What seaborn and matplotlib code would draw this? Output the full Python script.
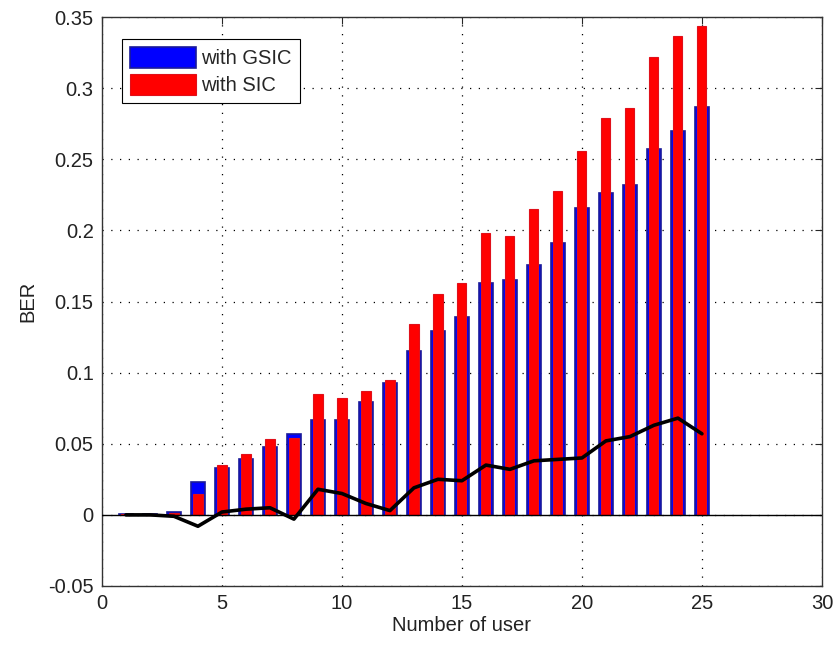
import numpy as np
import pandas as pd
import seaborn as sns
import matplotlib.pyplot as plt

# ── Data ──────────────────────────────────────────────────────────────────────
users = list(range(1, 26))
ber_gsic = [0.0005, 0.0003, 0.002, 0.023, 0.033, 0.039, 0.048, 0.057, 0.067, 0.067,
            0.079, 0.093, 0.115, 0.129, 0.139, 0.163, 0.165, 0.176, 0.191, 0.216,
            0.226, 0.232, 0.257, 0.270, 0.287]
ber_sic = [0.0005, 0.0003, 0.001, 0.015, 0.035, 0.043, 0.053, 0.054, 0.085, 0.082,
           0.087, 0.095, 0.134, 0.155, 0.163, 0.198, 0.196, 0.215, 0.228, 0.256,
           0.279, 0.286, 0.322, 0.337, 0.344]
ber_diff = [0.0, 0.0, -0.001, -0.008, 0.002, 0.004, 0.005, -0.003, 0.018, 0.015,
            0.008, 0.003, 0.019, 0.025, 0.024, 0.035, 0.032, 0.038, 0.039, 0.040,
            0.052, 0.055, 0.063, 0.068, 0.057]

df = pd.DataFrame({"user": users, "gsic": ber_gsic, "sic": ber_sic, "diff": ber_diff})

sns.set_style("white")
plt.rcParams['font.family'] = ['Liberation Sans', 'DejaVu Sans']
fs = 14.5

fig = plt.figure(figsize=(8.33, 6.47), dpi=100)
ax = fig.add_axes([0.1224, 0.0943, 0.8643, 0.8794])

sns.barplot(data=df, x="user", y="gsic", native_scale=True, width=0.58,
            color="#0000ff", saturation=1, edgecolor="#1a1a9a", linewidth=1.2,
            label="with GSIC", ax=ax, zorder=2)
sns.barplot(data=df, x="user", y="sic", native_scale=True, width=0.38,
            color="#ff0000", saturation=1, edgecolor="#e0101a", linewidth=0.8,
            label="with SIC", ax=ax, zorder=3)
sns.lineplot(data=df, x="user", y="diff", color="black", linewidth=2.6,
             ax=ax, zorder=4)
ax.axhline(0, color="black", linewidth=1.0, zorder=3.5)

ax.set_xlim(0, 30)
ax.set_ylim(-0.05, 0.35)
ax.set_xticks(np.arange(0, 31, 5))
ax.set_yticks(np.round(np.arange(-0.05, 0.351, 0.05), 2))
ax.set_yticklabels(["-0.05", "0", "0.05", "0.1", "0.15", "0.2", "0.25", "0.3", "0.35"])
ax.grid(True, linestyle=(0, (1, 6)), color="black", linewidth=0.9)
ax.set_axisbelow(True)
ax.tick_params(direction="in", length=5, top=True, right=True, labelsize=fs,
               labelcolor="#222222", pad=6)
for s in ax.spines.values():
    s.set_color("#333333")
    s.set_linewidth(1.0)

ax.set_xlabel("Number of user", fontsize=fs, labelpad=2, color="#222222")
ax.set_ylabel("BER", fontsize=fs, labelpad=8, color="#222222")

handles, labels = ax.get_legend_handles_labels()
leg = ax.legend(handles[:2], labels[:2], loc="upper left", bbox_to_anchor=(0.0278, 0.9613),
                fontsize=fs, handlelength=3.3, handleheight=1.2, fancybox=False,
                framealpha=1, edgecolor="black", borderpad=0.4, labelspacing=0.3,
                handletextpad=0.25, borderaxespad=0)
leg.get_frame().set_linewidth(0.8)

fig.savefig("out.png", dpi=100)
